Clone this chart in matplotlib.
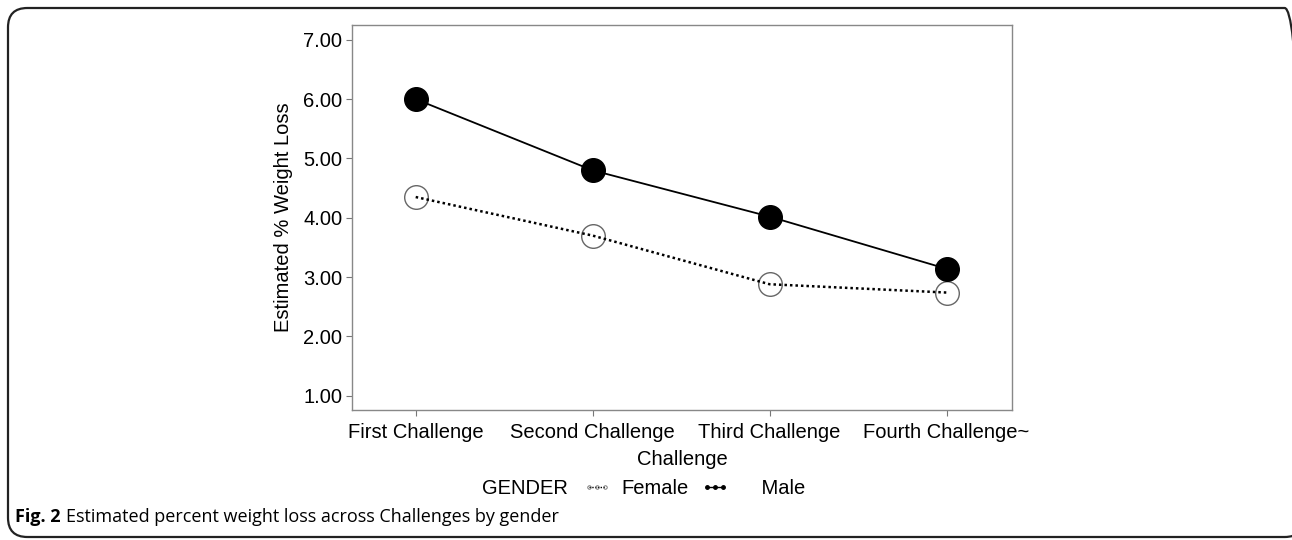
import matplotlib.pyplot as plt
from matplotlib.patches import FancyBboxPatch
from matplotlib.lines import Line2D

challenges = ["First Challenge", "Second Challenge", "Third Challenge", "Fourth Challenge~"]
male = [6.00, 4.80, 4.02, 3.14]
female = [4.35, 3.70, 2.88, 2.74]
yticks = [1, 2, 3, 4, 5, 6, 7]

plt.rcParams['font.family'] = ['Liberation Sans', 'DejaVu Sans']
FS = 14.5

W, H = 1292, 540
fig = plt.figure(figsize=(W / 100, H / 100), dpi=100)

# rounded frame around the whole figure (right side runs off the image)
frame = FancyBboxPatch((8 / W, 3 / H), 1296 / W, 529 / H,
                       boxstyle="round,pad=0,rounding_size=0.015",
                       transform=fig.transFigure, fill=False,
                       edgecolor="#222222", linewidth=1.6, mutation_aspect=W / H)
fig.patches.append(frame)

ax = fig.add_axes([352 / W, 1 - 410 / H, 660 / W, 385 / H])
x = range(len(challenges))

ax.plot(x, female, color="black", linestyle=(0, (1, 1.2)), linewidth=1.8, zorder=3)
ax.plot(x, female, linestyle="none", marker="o", markersize=17, markerfacecolor="none",
        markeredgecolor="#666666", markeredgewidth=1.0, zorder=2)
ax.plot(x, male, color="black", linewidth=1.3, marker="o", markersize=17,
        markerfacecolor="black", markeredgecolor="black", zorder=4)

ax.set_xlim(-0.36, 3.37)
ax.set_ylim(0.76, 7.25)
ax.set_xticks(list(x))
ax.set_xticklabels(challenges, fontsize=FS)
ax.set_yticks(yticks)
ax.set_yticklabels([f"{v:.2f}" for v in yticks], fontsize=FS)
ax.tick_params(axis="both", direction="out", length=4, width=0.8, color="#777777", pad=3)
ax.tick_params(axis="x", pad=5)
for s in ax.spines.values():
    s.set_color("#888888")
    s.set_linewidth(1.0)

ax.set_xlabel("Challenge", fontsize=FS, labelpad=6)
ax.set_ylabel("Estimated % Weight Loss", fontsize=FS, labelpad=7)

# legend
h_f = Line2D([], [], color="black", linestyle=(0, (1, 1)), linewidth=1, marker="o",
             markersize=2.5, markerfacecolor="none", markeredgecolor="#666666",
             markeredgewidth=0.6)
h_m = Line2D([], [], color="black", linewidth=1, marker="o", markersize=2.5,
             markerfacecolor="black")
fig.text(482 / W, 1 - 489 / H, "GENDER", fontsize=FS, va="center", ha="left")
fig.legend([h_f, h_m], ["Female", "    Male"], loc="center left",
           bbox_to_anchor=(573 / W, 1 - 489 / H), ncol=2, frameon=False,
           fontsize=FS, handlelength=1.4, handletextpad=0.5, columnspacing=0.6,
           borderpad=0, numpoints=3)

# caption
cap_y = 1 - 517 / H
t = fig.text(15 / W, cap_y, "Fig. 2", fontsize=13, fontweight="bold",
             family="Open Sans", va="center", ha="left")
fig.canvas.draw()
bb = t.get_window_extent()
fig.text((bb.x1 + 5) / W, cap_y, "Estimated percent weight loss across Challenges by gender",
         fontsize=13, family="Open Sans", va="center", ha="left")

fig.savefig("out.png", dpi=100)
